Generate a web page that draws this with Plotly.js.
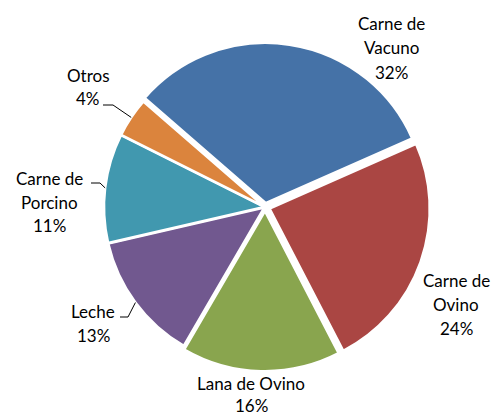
<!DOCTYPE html>
<html><head><meta charset="utf-8">
<script src="https://cdn.plot.ly/plotly-3.0.1.min.js"></script>
<style>html,body{margin:0;padding:0;background:#fff}</style>
</head><body><div id="chart" style="width:503px;height:417px"></div>
<script>
// ---- data ----
const labels = ["Carne de Vacuno", "Carne de Ovino", "Lana de Ovino", "Leche", "Carne de Porcino", "Otros"];
const labelLines = [["Carne de", "Vacuno"], ["Carne de", "Ovino"], ["Lana de Ovino"], ["Leche"], ["Carne de", "Porcino"], ["Otros"]];
const values = [32, 24, 16, 13, 11, 4];

// ---- styles / layout ----
const colors = ["#4572A7", "#AA4643", "#89A54E", "#71588F", "#4198AF", "#DB843D"];
const pulls = [0.025, 0.03, 0.025, 0.005, 0.005, 0.005];
const W = 503, H = 417;
const rotation = -49;
const domX = [0.1988, 0.8549], domY = [0.1079, 0.8993];
// label block positions in px (center x, center y of first line)
const labelPos = [[391, 24], [456, 280], [251, 383], [93, 311], [49, 178], [88, 75]];
const lineGaps = [24, 24, 22, 24, 24, 24];
const leader = [null, null, null, [120, 128, 317], [91, 100, 183], [103, 113, 105]];
const fontFam = 'Lato, "Open Sans", sans-serif';

const total = values.reduce((a, b) => a + b, 0);
const pcts = values.map(v => Math.round(v / total * 100) + '%');

// pie geometry (matches Plotly's own computation)
const cx = (domX[0] + domX[1]) / 2 * W;
const cy = H - (domY[0] + domY[1]) / 2 * H;
const maxPull = Math.max(...pulls);
const r = Math.min((domX[1] - domX[0]) * W, (domY[1] - domY[0]) * H) / 2 / (1 + maxPull);

const annotations = [];
const shapes = [];
let cum = 0;
values.forEach((v, i) => {
  const a0 = rotation + cum / total * 360;
  cum += v;
  const a1 = rotation + cum / total * 360;
  const mid = (a0 + a1) / 2 * Math.PI / 180;
  const lines = labelLines[i].concat([pcts[i]]);
  lines.forEach((t, k) => {
    annotations.push({
      text: t, showarrow: false, xref: 'paper', yref: 'paper',
      x: labelPos[i][0] / W, y: 1 - (labelPos[i][1] + k * lineGaps[i]) / H,
      xanchor: 'center', yanchor: 'middle',
      font: {family: fontFam, size: 17, color: '#000'}
    });
  });
  if (leader[i]) {
    const R = r * (1 + pulls[i]);
    const ex = cx + R * Math.sin(mid), ey = cy - R * Math.cos(mid);
    const [x0, xb, yl] = leader[i];
    shapes.push({
      type: 'path', xref: 'paper', yref: 'paper',
      path: `M ${x0 / W} ${1 - yl / H} L ${xb / W} ${1 - yl / H} L ${ex / W} ${1 - ey / H}`,
      line: {color: '#000', width: 1}
    });
  }
});

Plotly.newPlot('chart', [{
  type: 'pie',
  labels: labels,
  values: values,
  sort: false,
  direction: 'clockwise',
  rotation: rotation,
  pull: pulls,
  marker: {colors: colors, line: {color: '#fff', width: 2.5}},
  textinfo: 'none',
  domain: {x: domX, y: domY},
  showlegend: false,
  hoverinfo: 'none'
}], {
  width: W, height: H,
  margin: {l: 0, r: 0, t: 0, b: 0},
  paper_bgcolor: '#fff',
  showlegend: false,
  annotations: annotations,
  shapes: shapes
}, {displayModeBar: false, staticPlot: true});
</script></body></html>
